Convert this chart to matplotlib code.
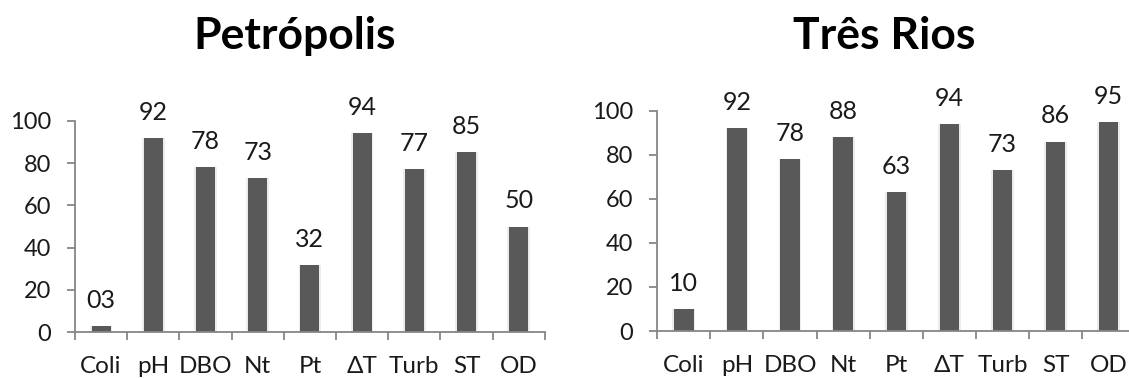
import matplotlib
matplotlib.use("Agg")
import matplotlib.pyplot as plt
import numpy as np

categories = ["Coli", "pH", "DBO", "Nt", "Pt", "ΔT", "Turb", "ST", "OD"]
petropolis = [3, 92, 78, 73, 32, 94, 77, 85, 50]
tres_rios = [10, 92, 78, 88, 63, 94, 73, 86, 95]
titles = ["Petrópolis", "Três Rios"]
yticks = [0, 20, 40, 60, 80, 100]

plt.rcParams['font.family'] = ['Lato', 'DejaVu Sans']

DPI = 100
W, H = 1129, 378
fig = plt.figure(figsize=(W / DPI, H / DPI), dpi=DPI)

BAR = "#595959"
AX = "#868686"
px = 72.0 / DPI  # points per pixel

# axes rectangles in pixels: (left, y_of_0, y_of_100, category width)
layouts = [(75, 332.3, 120.7, 52.2), (657.3, 331.0, 110.7, 53.1)]
title_x = [295, 884.5]

for data, title, (lx, y0, y100, cw), tx in zip([petropolis, tres_rios], titles, layouts, title_x):
    left = lx / W
    width = 9 * cw / W
    bottom = (H - y0) / H
    height = (y0 - y100) / H
    ax = fig.add_axes([left, bottom, width, height])
    x = np.arange(len(categories))
    # soft glow around bars
    ax.bar(x, data, width=0.43, color="#ececec", zorder=1, clip_on=False)
    ax.bar(x, data, width=0.365, color=BAR, zorder=2, clip_on=False)
    for xi, v in zip(x, data):
        ax.annotate(f"{v:02d}", (xi, v), xytext=(0, 13), textcoords="offset points",
                    ha="center", va="baseline", fontsize=18, color="#1a1a1a",
                    annotation_clip=False)
    ax.set_xlim(-0.5, 8.5)
    ax.set_ylim(0, 100)
    ax.set_yticks(yticks)
    ax.set_yticklabels([str(t) for t in yticks])
    ax.set_xticks(x)
    ax.set_xticklabels(categories)
    ax.set_xticks(np.arange(-0.5, 9.0, 1.0), minor=True)
    for s in ["top", "right"]:
        ax.spines[s].set_visible(False)
    for s in ["left", "bottom"]:
        ax.spines[s].set_color(AX)
        ax.spines[s].set_linewidth(1.3)
    ax.tick_params(axis="y", direction="out", length=8 * px, width=1.3, color=AX,
                   labelsize=17, pad=16 * px, labelcolor="#1a1a1a")
    ax.tick_params(axis="x", which="major", length=0, labelsize=17.5, pad=24 * px,
                   labelcolor="#1a1a1a")
    ax.tick_params(axis="x", which="minor", direction="out", length=8 * px, width=1.3,
                   color=AX)
    fig.text(tx / W, (H - 49) / H, title, ha="center", va="baseline",
             fontsize=32, fontweight="bold", color="black")

fig.savefig("out.png", dpi=DPI)
